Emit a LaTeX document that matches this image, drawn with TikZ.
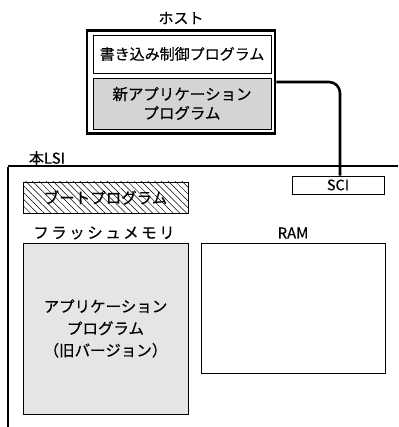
\documentclass[tikz,border=0pt]{standalone}
\usepackage{fontspec}
\setmainfont{Noto Sans CJK JP}[FakeBold=0.35]
\usetikzlibrary{patterns.meta}
\tikzset{
  box/.style={draw=black, line width=0.9pt, inner sep=0pt, align=center},
  lbl/.style={inner sep=0pt, font=\fontsize{15}{18}\selectfont},
}
\begin{document}
\begin{tikzpicture}[x=1pt,y=-1pt]
\useasboundingbox (0,0) rectangle (398,427);
% host
\node[lbl] (hostlbl) at (181,18) {ホスト};
\node[draw=black, line width=2.6pt, minimum width=188pt, minimum height=103pt, inner sep=0pt] (host) at (181,82) {};
\node[box, minimum width=178pt, minimum height=38pt, font=\fontsize{15}{18}\selectfont] (writer) at (182,54) {書き込み制御プログラム};
\node[box, fill=black!17, minimum width=178pt, minimum height=51pt, font=\fontsize{15.5}{19}\selectfont] (newapp) at (182,103.5) {新アプリケーション\\プログラム};
% LSI
\coordinate (lsiTL) at (8,166);
\coordinate (lsiTR) at (398,166);
\coordinate (lsiBL) at (8,427);
\draw[line width=1.5pt] (lsiTL) -- (lsiTR);
\draw[line width=2.6pt] ([yshift=-0.75pt]lsiTL) -- (lsiBL);
\node[lbl] (lsilbl) at (47,158) {本LSI};
% SCI
\node[box, fill=white, minimum width=92pt, minimum height=18pt, font=\fontsize{14.5}{16}\selectfont] (sci) at (338,185) {SCI};
% connector
\draw[line width=2.6pt, rounded corners=11pt] (host.east) -| ([xshift=2pt]sci.north);
% boot
\node[box, minimum width=165pt, minimum height=31pt, pattern={Lines[angle=-45, distance=4.8pt, line width=0.5pt]}, font=\fontsize{15.5}{18}\selectfont] (boot) at (105.5,197.5) {ブートプログラム};
% flash & RAM
\node[lbl, font=\fontsize{15.5}{18}\selectfont\addfontfeature{LetterSpace=16}] (flashlbl) at (104,233) {フラッシュメモリ};
\node[lbl, font=\fontsize{15}{18}\selectfont] (ramlbl) at (293,233) {RAM};
\node[box, line width=0.8pt, fill=black!10, minimum width=165pt, minimum height=171pt, font=\fontsize{15.5}{22}\selectfont] (flash) at (105.5,328.5) {アプリケーション\\プログラム\\（旧バージョン）};
\node[box, line width=0.8pt, minimum width=184pt, minimum height=130pt] (ram) at (293,308) {};
\end{tikzpicture}
\end{document}
